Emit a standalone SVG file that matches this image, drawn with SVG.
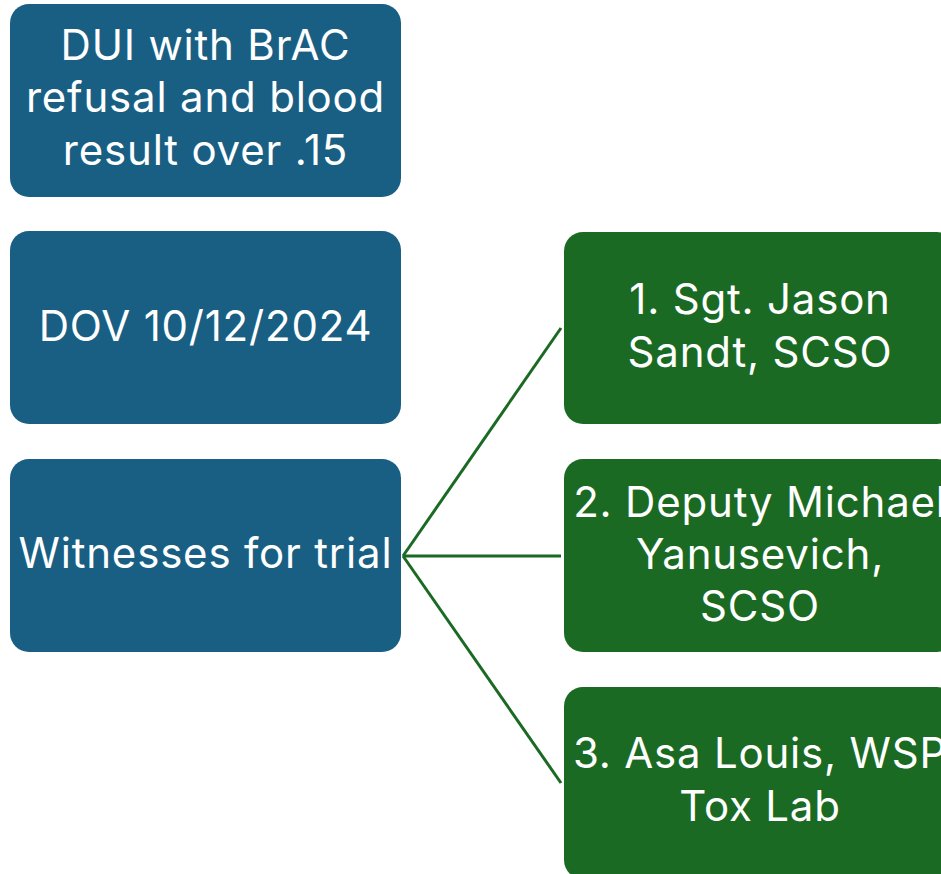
<svg xmlns="http://www.w3.org/2000/svg" width="941" height="874" viewBox="0 0 941 874">
<style>
.b{fill:#195f84}
.g{fill:#1b6a24}
.t{font-family:Inter,"Open Sans","Liberation Sans",sans-serif;font-size:42px;letter-spacing:0.8px;fill:#ffffff;text-anchor:middle}
.c{stroke:#1b6a24;stroke-width:3;fill:none}
</style>
<rect width="941" height="874" fill="#ffffff"/>
<g id="connectors">
<line class="c" x1="403" y1="556" x2="561" y2="328"/>
<line class="c" x1="403" y1="556" x2="561" y2="556"/>
<line class="c" x1="403" y1="556" x2="561" y2="783"/>
</g>
<g id="n1"><rect class="b" x="10" y="4" width="391" height="193" rx="19"/>
<text class="t"><tspan x="205.5" y="60">DUI with BrAC</tspan><tspan x="205.5" y="112">refusal and blood</tspan><tspan x="205.5" y="165">result over .15</tspan></text></g>
<g id="n2"><rect class="b" x="10" y="231" width="391" height="193" rx="19"/>
<text class="t" x="205.5" y="341">DOV 10/12/2024</text></g>
<g id="n3"><rect class="b" x="10" y="459" width="391" height="193" rx="19"/>
<text class="t" x="205.5" y="568">Witnesses for trial</text></g>
<g id="w1"><rect class="g" x="564" y="232" width="392" height="192" rx="19"/>
<text class="t"><tspan x="760" y="314">1. Sgt. Jason</tspan><tspan x="760" y="367">Sandt, SCSO</tspan></text></g>
<g id="w2"><rect class="g" x="564" y="459" width="392" height="193" rx="19"/>
<text class="t"><tspan x="760" y="517">2. Deputy Michael</tspan><tspan x="760" y="569">Yanusevich,</tspan><tspan x="760" y="621">SCSO</tspan></text></g>
<g id="w3"><rect class="g" x="564" y="687" width="392" height="192" rx="19"/>
<text class="t"><tspan x="760" y="768">3. Asa Louis, WSP</tspan><tspan x="760" y="821">Tox Lab</tspan></text></g>
</svg>
